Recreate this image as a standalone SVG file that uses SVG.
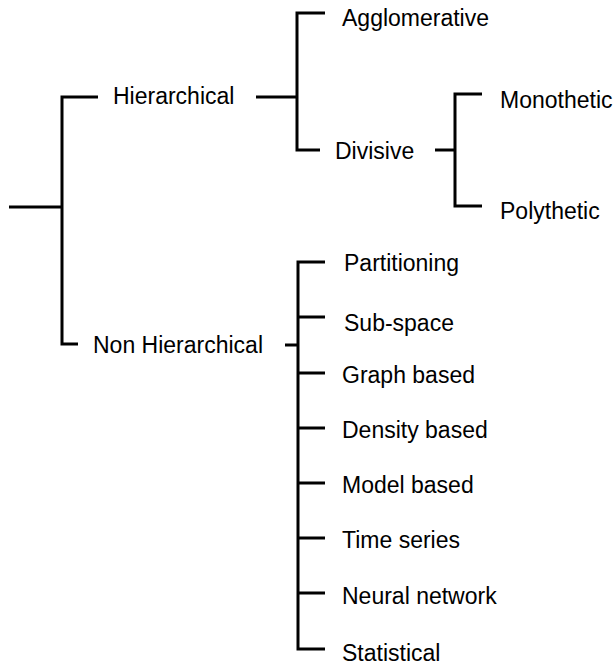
<svg xmlns="http://www.w3.org/2000/svg" width="615" height="667" viewBox="0 0 615 667">
<style>
.c{fill:none;stroke:#000;stroke-width:3;stroke-linecap:butt;stroke-linejoin:miter}
text{font-family:"Liberation Sans",Arial,Helvetica,sans-serif;font-size:23px;fill:#000}
</style>
<rect width="615" height="667" fill="#fff"/>
<g id="connectors">
<path class="c" d="M9 207H62"/>
<path class="c" d="M98 97H62V344H78"/>
<path class="c" d="M256 97H297"/>
<path class="c" d="M325 13H297V150H320"/>
<path class="c" d="M435 150H455"/>
<path class="c" d="M482 94H455V206H482"/>
<path class="c" d="M285 345H298"/>
<path class="c" d="M325 262H298V649H325"/>
<path class="c" d="M298 317H325M298 373H325M298 428H325M298 483H325M298 538H325M298 593H325"/>
</g>
<g id="hierarchical"><text x="113" y="104">Hierarchical</text></g>
<g id="agglomerative"><text x="342" y="26">Agglomerative</text></g>
<g id="divisive"><text x="335" y="159">Divisive</text></g>
<g id="monothetic"><text x="500" y="108">Monothetic</text></g>
<g id="polythetic"><text x="500" y="219">Polythetic</text></g>
<g id="non-hierarchical"><text x="93" y="353">Non Hierarchical</text></g>
<g id="partitioning"><text x="344" y="271">Partitioning</text></g>
<g id="sub-space"><text x="344" y="331">Sub-space</text></g>
<g id="graph-based"><text x="342" y="383">Graph based</text></g>
<g id="density-based"><text x="342" y="438">Density based</text></g>
<g id="model-based"><text x="342" y="493">Model based</text></g>
<g id="time-series"><text x="342" y="548">Time series</text></g>
<g id="neural-network"><text x="342" y="604">Neural network</text></g>
<g id="statistical"><text x="342" y="661">Statistical</text></g>
</svg>
